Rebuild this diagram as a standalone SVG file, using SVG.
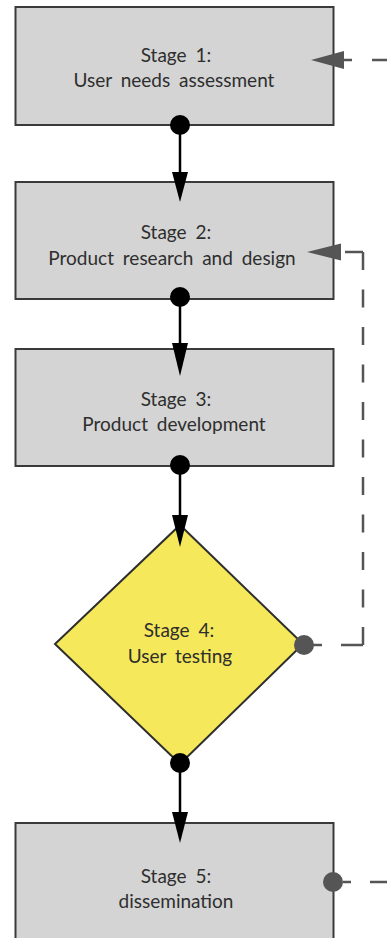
<svg xmlns="http://www.w3.org/2000/svg" width="387" height="938" viewBox="0 0 387 938">
<style>
.box{fill:#d4d4d4;stroke:#3a3a3a;stroke-width:2}
.dia{fill:#f5e85a;stroke:#2e2e2e;stroke-width:2}
.lbl{font-family:Lato,"Open Sans",sans-serif;font-size:19px;fill:#2e2e2e;text-anchor:middle;word-spacing:4px}
.flow{stroke:#000;stroke-width:2.5;fill:none}
.head{fill:#000}
.dot{fill:#000}
.gdot{fill:#555}
.fb{stroke:#555;stroke-width:2.5;fill:none}
.fbhead{fill:#555}
</style>
<rect width="387" height="938" fill="#fff"/>
<g id="stage1">
  <rect class="box" x="15.5" y="7" width="318" height="118"/>
  <text class="lbl" x="176" y="62">Stage 1:</text>
  <text class="lbl" x="174" y="87">User needs assessment</text>
  <circle class="dot" cx="180" cy="125" r="10"/>
</g>
<g id="stage2">
  <rect class="box" x="15.5" y="182" width="318" height="117"/>
  <text class="lbl" x="176" y="239">Stage 2:</text>
  <text class="lbl" x="172" y="265">Product research and design</text>
  <circle class="dot" cx="180" cy="297" r="10"/>
</g>
<g id="stage3">
  <rect class="box" x="15.5" y="349" width="318" height="117"/>
  <text class="lbl" x="176" y="406">Stage 3:</text>
  <text class="lbl" x="174" y="431">Product development</text>
  <circle class="dot" cx="180" cy="465" r="10"/>
</g>
<g id="stage4">
  <polygon class="dia" points="180,525 303,644 180,764 55,644"/>
  <text class="lbl" x="179" y="637">Stage 4:</text>
  <text class="lbl" x="180" y="663">User testing</text>
  <circle class="dot" cx="180" cy="763" r="10"/>
  <circle class="gdot" cx="304" cy="645" r="10"/>
</g>
<g id="stage5">
  <rect class="box" x="15.5" y="823" width="318" height="118"/>
  <text class="lbl" x="176" y="883">Stage 5:</text>
  <text class="lbl" x="176" y="908">dissemination</text>
  <circle class="gdot" cx="333" cy="882" r="10"/>
</g>
<g id="connectors">
  <path class="flow" d="M180,125 V175"/>
  <polygon class="head" points="172,172 188,172 180,202"/>
  <path class="flow" d="M180,297 V346"/>
  <polygon class="head" points="172,343 188,343 180,376"/>
  <path class="flow" d="M180,465 V518"/>
  <polygon class="head" points="172,515 188,515 180,547"/>
  <path class="flow" d="M180,763 V815"/>
  <polygon class="head" points="172,812 188,812 180,843"/>
  <g id="feedback-4-2">
    <path class="fb" d="M313,645 H322 M341,645 H363"/>
    <path class="fb" d="M363,645 V252" stroke-dasharray="18 19.5"/>
    <path class="fb" d="M363,252 H345"/>
    <polygon class="fbhead" points="307,252 341,243.5 341,260.5"/>
  </g>
  <g id="feedback-5-1">
    <path class="fb" d="M343,882 H351 M370,882 H390"/>
    <path class="fb" d="M340,60 H352 M372,60 H390"/>
    <polygon class="fbhead" points="311,60 344,51 344,69"/>
  </g>
</g>
</svg>
